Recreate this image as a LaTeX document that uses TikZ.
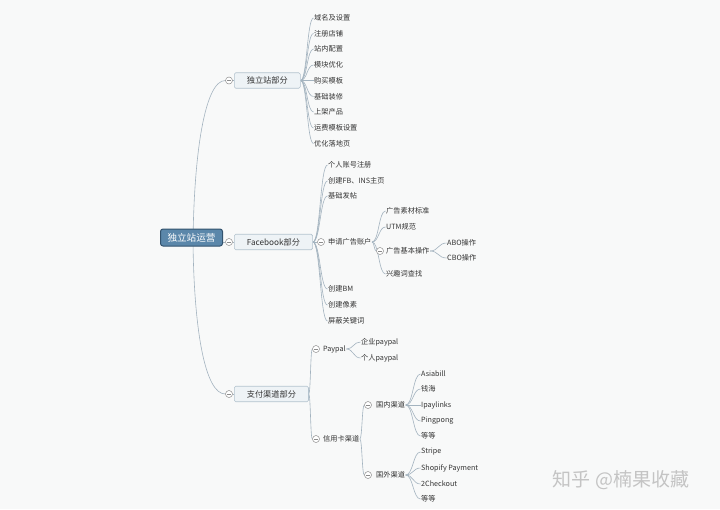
\documentclass[tikz,border=0pt]{standalone}
\usepackage{fontspec}
\setmainfont{Noto Sans CJK SC}
\usetikzlibrary{calc}
\pgfdeclarelayer{bgzero}
\pgfdeclarelayer{links}
\pgfsetlayers{bgzero,links,main}
\definecolor{bgc}{HTML}{F8F9F9}
\definecolor{txt}{HTML}{333333}
\definecolor{linkc}{HTML}{A3B3BF}
\definecolor{subf}{HTML}{EEF3F6}
\definecolor{subb}{HTML}{B3C3CE}
\definecolor{rootf}{HTML}{5B87AA}
\definecolor{rootb}{HTML}{33536E}
\definecolor{clpc}{HTML}{8C8C8C}
\definecolor{wmc}{HTML}{C4C4C4}
\tikzset{
  leaf/.style={anchor=west, inner xsep=0.5pt, inner ysep=1pt, font=\fontsize{7.2}{8.5}\selectfont, text=txt},
  sub/.style={draw=subb, fill=subf, rounded corners=1.5pt, line width=0.6pt, anchor=west, inner xsep=12.5pt, inner ysep=0pt, minimum height=15.5pt, font=\fontsize{8.2}{9}\selectfont, text=txt},
  rootbox/.style={draw=rootb, fill=rootf, line width=1pt, rounded corners=2.5pt, inner xsep=7pt, inner ysep=0pt, minimum height=17pt, font=\fontsize{9.6}{10}\selectfont, text=white},
  clp/.style={circle, draw=clpc, fill=white, line width=0.5pt, minimum size=7pt, inner sep=0pt,
    path picture={\draw[clpc, line width=0.5pt] ([xshift=1.5pt]path picture bounding box.west) -- ([xshift=-1.5pt]path picture bounding box.east);}},
  link/.style={draw=linkc, line width=0.6pt},
  fan/.style={to path={let \p1=(\tikztostart), \p2=(\tikztotarget) in .. controls ({(\x1+\x2)/2},\y1) and ({(\x1+\x2)/2},\y2) .. (\tikztotarget)}}
}
\begin{document}
\begin{tikzpicture}[x=1pt,y=-1pt]
\useasboundingbox (0,0) rectangle (720,509);
\begin{pgfonlayer}{bgzero}
\fill[bgc] (0,0) rectangle (720,509);
\end{pgfonlayer}

% root
\node[rootbox] (root) at (191.5,237.5) {独立站运营};
\coordinate (rc) at (193,242);

% level 1
\node[sub] (ind) at (234,80.5) {独立站部分};
\node[sub] (fb) at (234,242) {Facebook部分};
\node[sub] (pay) at (234,394) {支付渠道部分};
\node[clp] (c-ind) at (229,80.5) {};
\node[clp] (c-fb) at (229,242) {};
\node[clp] (c-pay) at (229,394) {};

% 独立站部分 children
\node[leaf] (a1) at (313.5,18) {域名及设置};
\node[leaf] (a2) at (313.5,33.5) {注册店铺};
\node[leaf] (a3) at (313.5,49) {站内配置};
\node[leaf] (a4) at (313.5,65) {模块优化};
\node[leaf] (a5) at (313.5,80.5) {购买模板};
\node[leaf] (a6) at (313.5,96.5) {基础装修};
\node[leaf] (a7) at (313.5,112) {上架产品};
\node[leaf] (a8) at (313.5,128) {运费模板设置};
\node[leaf] (a9) at (313.5,143.5) {优化落地页};

% Facebook children
\node[leaf] (b1) at (327.5,165) {个人账号注册};
\node[leaf] (b2) at (327.5,181) {创建FB、INS主页};
\node[leaf] (b3) at (327.5,196) {基础发帖};
\node[leaf] (ad) at (327.5,242) {申请广告账户};
\node[clp] (c-ad) at (321,242) {};
\node[leaf] (b5) at (327.5,289) {创建BM};
\node[leaf] (b6) at (327.5,305) {创建像素};
\node[leaf] (b7) at (327.5,321) {屏蔽关键词};

% 申请广告账户 children
\node[leaf] (d1) at (385.5,211) {广告素材标准};
\node[leaf] (d2) at (385.5,227) {UTM规范};
\node[leaf] (op) at (385.5,251) {广告基本操作};
\node[clp] (c-op) at (380,251) {};
\node[leaf] (d4) at (385.5,274) {兴趣词查找};
\node[leaf] (e1) at (446.5,243) {ABO操作};
\node[leaf] (e2) at (446.5,258) {CBO操作};

% 支付渠道部分 children
\node[leaf] (pp) at (322.5,349) {Paypal};
\node[clp] (c-pp) at (316,349) {};
\node[leaf] (card) at (322.5,439) {信用卡渠道};
\node[clp] (c-card) at (316,439) {};
\node[leaf] (p1) at (360.5,342) {企业paypal};
\node[leaf] (p2) at (360.5,358) {个人paypal};
\node[leaf] (dom) at (375.5,405) {国内渠道};
\node[clp] (c-dom) at (368,405) {};
\node[leaf] (fgn) at (375.5,475) {国外渠道};
\node[clp] (c-fgn) at (368,475) {};
\node[leaf] (g1) at (420.5,374) {Asiabill};
\node[leaf] (g2) at (420.5,389) {钱海};
\node[leaf] (g3) at (420.5,405) {Ipaylinks};
\node[leaf] (g4) at (420.5,421) {Pingpong};
\node[leaf] (g5) at (420.5,436) {等等};
\node[leaf] (h1) at (420.5,452) {Stripe};
\node[leaf] (h2) at (420.5,468) {Shopify Payment};
\node[leaf] (h3) at (420.5,484) {2Checkout};
\node[leaf] (h4) at (420.5,499) {等等};

% watermark
\node[font=\fontsize{19}{19}\selectfont, text=wmc, inner sep=0pt] (wm) at (621,480) {知乎 @楠果收藏};

\begin{pgfonlayer}{links}
\draw[link] (rc) .. controls (194,152) and (205,80.5) .. (c-ind.west);
\draw[link] (rc) -- (c-fb.west);
\draw[link] (rc) .. controls (194,330) and (205,394) .. (c-pay.west);
\foreach \c in {ind,fb,pay} \draw[link] (c-\c.east) -- (\c.west);
\foreach \c in {a1,a2,a3,a4,a5,a6,a7,a8,a9} \draw[link] (ind.east) to[fan] (\c.west);
\foreach \c in {b1,b2,b3,b5,b6,b7} \draw[link] (fb.east) to[fan] (\c.west);
\draw[link] (fb.east) to[fan] (c-ad.west);
\foreach \c in {d1,d2,d4} \draw[link] (ad.east) to[fan] (\c.west);
\draw[link] (ad.east) to[fan] (c-op.west);
\foreach \c in {e1,e2} \draw[link] (op.east) to[fan] (\c.west);
\draw[link] (pay.east) to[fan] (c-pp.west);
\draw[link] (pay.east) to[fan] (c-card.west);
\foreach \c in {p1,p2} \draw[link] (pp.east) to[fan] (\c.west);
\draw[link] (card.east) to[fan] (c-dom.west);
\draw[link] (card.east) to[fan] (c-fgn.west);
\foreach \c in {g1,g2,g3,g4,g5} \draw[link] (dom.east) to[fan] (\c.west);
\foreach \c in {h1,h2,h3,h4} \draw[link] (fgn.east) to[fan] (\c.west);
\end{pgfonlayer}
\end{tikzpicture}
\end{document}
